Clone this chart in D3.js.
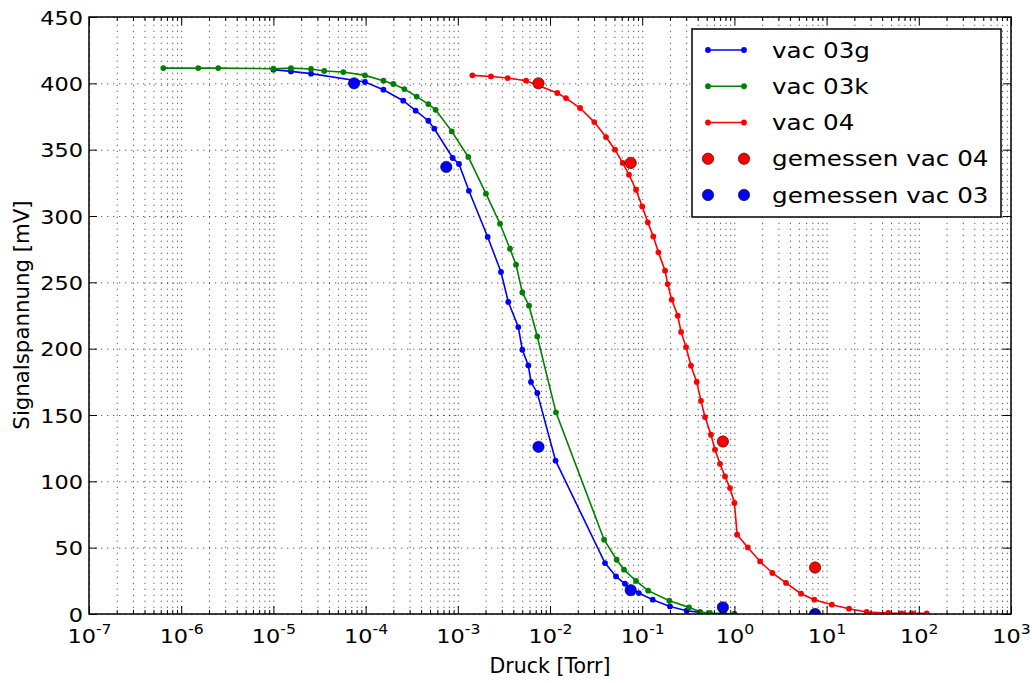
<!DOCTYPE html>
<html><head><meta charset="utf-8">
<script src="https://cdn.jsdelivr.net/npm/d3@7/dist/d3.min.js"></script>
<style>
body{margin:0;background:#fff;}
svg{display:block;font-family:"DejaVu Sans",sans-serif;}
</style></head>
<body><svg id="c" width="1032" height="683"></svg>
<script>
// ---- data (pressure in Torr, signal in mV) ----
const vac03gP = [1.0e-5,1.55e-5,2.56e-5,9.84e-5,1.56e-4,2.56e-4,3.49e-4,4.79e-4,5.56e-4,8.81e-4,1.03e-3,1.32e-3,2.11e-3,2.94e-3,3.53e-3,4.53e-3,5.01e-3,5.82e-3,6.22e-3,7.28e-3,1.15e-2,3.95e-2,5.2e-2,6.5e-2,9.2e-2,0.13,0.2,0.304,0.424];
const vac03gV = [410.3,409,407.3,401,395.2,386.9,379.4,371.8,365.8,343.7,339.2,319,284.2,257.8,235.2,216.3,199.2,187.4,174.9,166.6,115.6,38.4,28.3,22.8,15.8,10.8,5.7,2.5,1.2];

const vac03kP = [6.4e-7,1.53e-6,2.52e-6,1.0e-5,1.55e-5,2.56e-5,3.56e-5,5.73e-5,9.84e-5,1.56e-4,2.0e-4,2.63e-4,3.58e-4,4.79e-4,5.75e-4,8.6e-4,1.3e-3,2.02e-3,2.87e-3,3.68e-3,4.28e-3,5.01e-3,5.92e-3,7.28e-3,1.16e-2,3.86e-2,5.28e-2,6.35e-2,8.57e-2,0.116,0.197,0.322,0.424,0.543,1.0];
const vac03kV = [411.5,411.5,411.5,411,411.5,410.8,409.3,408.5,406,402,399.5,395.7,390,384.4,380,363.8,344.5,316.8,294.2,275.3,263.3,242.4,232.4,209.2,152,56,40.9,33.4,24.9,17.6,10,5,1.5,0.8,0.2];

const vac04P = [1.44e-3,2.29e-3,3.48e-3,5.5e-3,1.2e-2,1.49e-2,2.12e-2,3.02e-2,4.05e-2,5.07e-2,6.14e-2,7.19e-2,8.57e-2,0.100,0.115,0.132,0.150,0.177,0.189,0.209,0.243,0.264,0.299,0.338,0.390,0.434,0.480,0.557,0.616,0.698,0.791,0.896,1.0,1.07,1.40,1.90,2.58,3.63,5.28,7.36,11.4,17.5,27.2,46.7,65.3,83.8,122];
const vac04V = [406,405.2,404,402,392.7,388.9,381.4,370.8,359.5,350,340,331.1,319.8,307.2,295.2,284.6,272.6,258.8,248.7,236.9,224.8,212.6,201.2,187.2,174.9,160.7,148.4,135.1,123.8,113.2,103.7,94.9,83.7,59.8,50.2,39.6,30.9,23.4,15.3,10.8,7.0,4.0,1.5,0.75,0.45,0.45,0.45];

const gem04P = [7.5e-3,7.5e-2,0.75,7.5];
const gem04V = [400,340,130,35];
const gem03P = [7.5e-5,7.5e-4,7.5e-3,7.5e-2,0.75,7.5];
const gem03V = [400,337,126,18,5,0];

const xExponents = [-7,-6,-5,-4,-3,-2,-1,0,1,2,3];
const yTickValues = [0,50,100,150,200,250,300,350,400,450];
const xLabel = "Druck [Torr]";
const yLabel = "Signalspannung [mV]";
const legendLabels = ["vac 03g","vac 03k","vac 04","gemessen vac 04","gemessen vac 03"];

// ---- layout ----
const L=89, R=1011, T=17, B=614;
const svg = d3.select("#c");
const x = d3.scaleLog().domain([1e-7,1e3]).range([L,R]);
const y = d3.scaleLinear().domain([0,450]).range([B,T]);

const majors = xExponents.map(e=>Math.pow(10,e));
const minors = [];
xExponents.slice(0,-1).forEach(e=>{for(let k=2;k<=9;k++) minors.push(k*Math.pow(10,e));});

// grid
const gridStyle = g=>{g.select(".domain").remove();g.selectAll("line").attr("stroke","#000").attr("stroke-width",0.9).attr("stroke-dasharray","1.3,4.7").attr("opacity",0.7);g.selectAll("text").remove();};
svg.append("g").attr("transform",`translate(0,${B})`)
  .call(d3.axisBottom(x).tickValues(majors.concat(minors)).tickSize(-(B-T)).tickFormat(""))
  .call(gridStyle);
svg.append("g").attr("transform",`translate(${L},0)`)
  .call(d3.axisLeft(y).tickValues(yTickValues).tickSize(-(R-L)).tickFormat(""))
  .call(gridStyle);

// data
svg.append("defs").append("clipPath").attr("id","clip").append("rect")
  .attr("x",L).attr("y",T).attr("width",R-L).attr("height",B-T);
const plot = svg.append("g").attr("clip-path","url(#clip)");
const line = d3.line().x(d=>x(d[0])).y(d=>y(d[1]));
const series = [
  {P:vac03gP,V:vac03gV,c:"#0000ff"},
  {P:vac03kP,V:vac03kV,c:"#008000"},
  {P:vac04P,V:vac04V,c:"#ff0000"}
];
series.forEach(s=>{
  const pts = s.P.map((p,i)=>[p,s.V[i]]);
  plot.append("path").datum(pts).attr("d",line).attr("fill","none").attr("stroke",s.c).attr("stroke-width",1.6);
  plot.selectAll(null).data(pts).enter().append("circle")
    .attr("cx",d=>x(d[0])).attr("cy",d=>y(d[1])).attr("r",2.9).attr("fill",s.c);
});
const gems = [{P:gem04P,V:gem04V,c:"#ff0000"},{P:gem03P,V:gem03V,c:"#0000ff"}];
gems.forEach(s=>{
  plot.selectAll(null).data(s.P.map((p,i)=>[p,s.V[i]])).enter().append("circle")
    .attr("cx",d=>x(d[0])).attr("cy",d=>y(d[1])).attr("r",5.7)
    .attr("fill",s.c).attr("stroke","#000").attr("stroke-width",0.8).attr("stroke-opacity",0.7);
});

// ticks (inside)
const tickStyle = g=>{g.select(".domain").remove();g.selectAll("line").attr("stroke","#000").attr("stroke-width",1);};
svg.append("g").attr("transform",`translate(0,${B})`).call(d3.axisBottom(x).tickValues(minors).tickSize(-4).tickFormat("")).call(tickStyle);
svg.append("g").attr("transform",`translate(0,${T})`).call(d3.axisTop(x).tickValues(minors).tickSize(-4).tickFormat("")).call(tickStyle);
svg.append("g").attr("transform",`translate(0,${T})`).call(d3.axisTop(x).tickValues(majors).tickSize(-8).tickFormat("")).call(tickStyle);
svg.append("g").attr("transform",`translate(${R},0)`).call(d3.axisRight(y).tickValues(yTickValues).tickSize(-8).tickFormat("")).call(tickStyle);

const gx = svg.append("g").attr("transform",`translate(0,${B})`)
  .call(d3.axisBottom(x).tickValues(majors).tickSize(-8).tickPadding(0).tickFormat("")).call(tickStyle);
gx.selectAll(".tick").each(function(d,i){
  const t = d3.select(this).select("text").attr("y",29).attr("dy",null)
    .attr("font-size",20).attr("fill","#000").attr("text-anchor","middle")
    .attr("font-family","DejaVu Sans").attr("transform","scale(1.12,1)");
  t.append("tspan").text("10");
  t.append("tspan").attr("dy",-9).attr("font-size",14).text(String(xExponents[i]));
});
const gy = svg.append("g").attr("transform",`translate(${L},0)`)
  .call(d3.axisLeft(y).tickValues(yTickValues).tickSize(-8).tickPadding(0).tickFormat(d3.format("d"))).call(tickStyle);
gy.selectAll(".tick text").attr("x",null).attr("dy",null).attr("dominant-baseline","central")
  .attr("font-size",20).attr("fill","#000").attr("text-anchor","end").attr("font-family","DejaVu Sans")
  .attr("transform","translate(-6,0) scale(1.12,1)");

// frame
svg.append("rect").attr("x",L).attr("y",T).attr("width",R-L).attr("height",B-T)
  .attr("fill","none").attr("stroke","#000").attr("stroke-width",1.5);

// axis labels
svg.append("text").attr("x",550).attr("y",673).attr("text-anchor","middle").attr("font-size",20.5).text(xLabel);
svg.append("text").attr("transform","translate(29,315) rotate(-90)").attr("text-anchor","middle").attr("font-size",21.3).text(yLabel);

// legend
const lg = svg.append("g");
lg.append("rect").attr("x",692).attr("y",29).attr("width",309).attr("height",188)
  .attr("fill","#fff").attr("stroke","#000").attr("stroke-width",1.5);
const legY = d3.scalePoint().domain(legendLabels).range([50,195]);
const legColors = ["#0000ff","#008000","#ff0000","#ff0000","#0000ff"];
legendLabels.forEach((lab,i)=>{
  const yy = legY(lab), c = legColors[i];
  if(i<3){
    lg.append("line").attr("x1",708).attr("x2",744).attr("y1",yy).attr("y2",yy).attr("stroke",c).attr("stroke-width",1.6);
    [708,744].forEach(xx=>lg.append("circle").attr("cx",xx).attr("cy",yy).attr("r",2.9).attr("fill",c));
  } else {
    [708,744].forEach(xx=>lg.append("circle").attr("cx",xx).attr("cy",yy).attr("r",5.7).attr("fill",c).attr("stroke","#000").attr("stroke-width",0.8).attr("stroke-opacity",0.7));
  }
  lg.append("text").attr("transform",`translate(772,${yy}) scale(1.12,1)`).attr("dominant-baseline","central")
    .attr("font-size",22).text(lab);
});
</script></body></html>
